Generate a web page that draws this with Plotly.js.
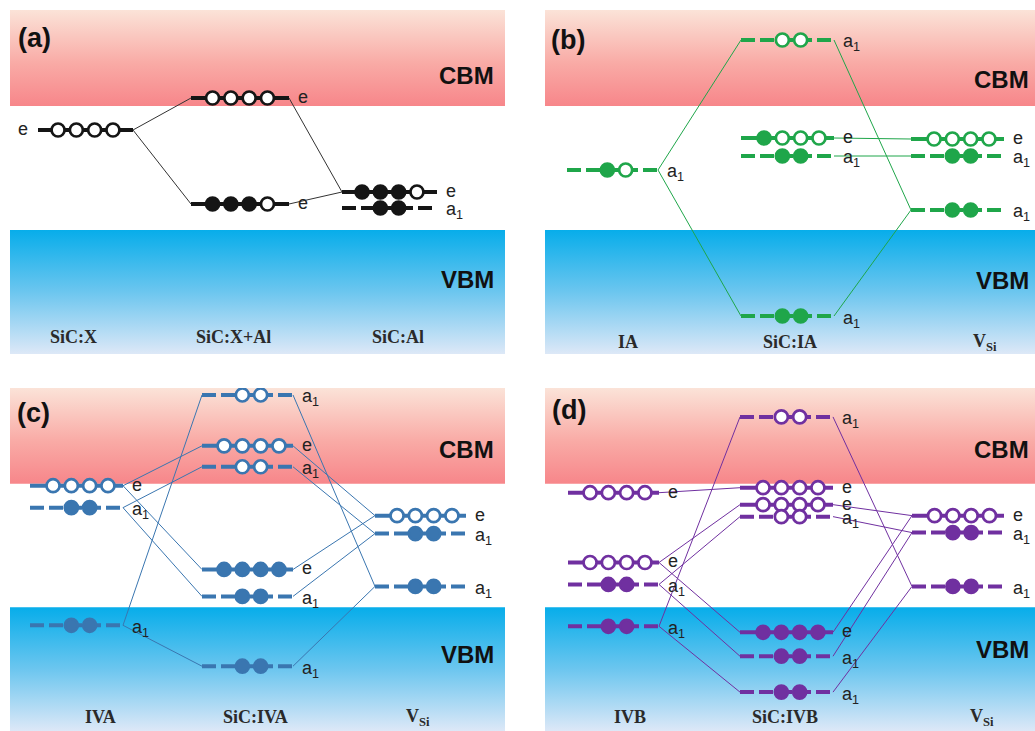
<!DOCTYPE html>
<html>
<head>
<meta charset="utf-8">
<script src="https://cdn.plot.ly/plotly-3.0.1.min.js"></script>
<style>html,body{margin:0;padding:0;background:#fff;}</style>
</head>
<body>
<div id="chart" style="width:1035px;height:731px;"></div>
<script>
// ---------- DATA (energies relative to VBM edge, arbitrary units; CBM edge = 124) ----------
const vbmEdge = 0;
const cbmEdge = 124;

// Panel (a)
const aCategories = ['SiC:X', 'SiC:X+Al', 'SiC:Al'];
const aLevelCol  = [0, 1, 1, 2, 2];
const aLevelE    = [100, 132, 26, 38, 22];
const aLevelType = ['e', 'e', 'e', 'e', 'a1'];
const aLevelOcc  = ['oooo', 'oooo', 'fffo', 'fffo', 'ff'];
const aLinks     = [[0, 1], [0, 2], [1, 3], [2, 3]];

// Panel (b)
const bCategories = ['IA', 'SiC:IA', 'V<sub>Si</sub>'];
const bLevelCol  = [0, 1, 1, 1, 1, 2, 2, 2];
const bLevelE    = [60, 190, 92, 74, -86, 91, 74, 20];
const bLevelType = ['a1', 'a1', 'e', 'a1', 'a1', 'e', 'a1', 'a1'];
const bLevelOcc  = ['fo', 'oo', 'fooo', 'ff', 'ff', 'oooo', 'ff', 'ff'];
const bLinks     = [[0, 1], [0, 4], [1, 7], [4, 7], [2, 5], [3, 6]];

// Panel (c)
const cCategories = ['IVA', 'SiC:IVA', 'V<sub>Si</sub>'];
const cLevelCol  = [0, 0, 0, 1, 1, 1, 1, 1, 1, 2, 2, 2];
const cLevelE    = [122, 100, -18, 213, 162, 141, 38, 11, -59, 92, 74, 21];
const cLevelType = ['e', 'a1', 'a1', 'a1', 'e', 'a1', 'e', 'a1', 'a1', 'e', 'a1', 'a1'];
const cLevelOcc  = ['oooo', 'ff', 'ff', 'oo', 'oooo', 'oo', 'ffff', 'ff', 'ff', 'oooo', 'ff', 'ff'];
const cLinks     = [[0, 4], [0, 6], [1, 5], [1, 7], [2, 3], [2, 8], [4, 9], [6, 9], [5, 10], [7, 10], [3, 11], [8, 11]];

// Panel (d)
const dCategories = ['IVB', 'SiC:IVB', 'V<sub>Si</sub>'];
const dLevelCol  = [0, 0, 0, 0, 1, 1, 1, 1, 1, 1, 1, 2, 2, 2];
const dLevelE    = [115, 45, 23, -19, 191, 120, 103, 91, -25, -49, -85, 92, 75, 21];
const dLevelType = ['e', 'e', 'a1', 'a1', 'a1', 'e', 'e', 'a1', 'e', 'a1', 'a1', 'e', 'a1', 'a1'];
const dLevelOcc  = ['oooo', 'oooo', 'ff', 'ff', 'oo', 'oooo', 'oooo', 'oo', 'ffff', 'ff', 'ff', 'oooo', 'ff', 'ff'];
const dLinks     = [[0, 5], [1, 6], [1, 8], [2, 7], [2, 9], [3, 4], [3, 10], [6, 11], [8, 11], [7, 12], [9, 12], [4, 13], [10, 13]];

// ---------- LAYOUT / STYLE ----------
const W = 1035, H = 731;
const SANS = 'Liberation Sans, Arial, sans-serif';
const SERIF = 'Liberation Serif, Times New Roman, serif';
const yLo = -124, yHi = 220;

const panels = [
  {tag: '(a)', color: '#151515', linkColor: '#333333', cats: aCategories, col: aLevelCol, E: aLevelE, type: aLevelType, occ: aLevelOcc, links: aLinks,
   px: [10, 505], py: [10, 354], xr: 495, colL: [28, 181, 332], colR: [123, 279, 427], shift: 0, leftLabelCol0: true,
   catX: [63, 223, 388], catE: -107, tagX: 6, tagE: 192, cbmE: 154, vbmE: -49},
  {tag: '(b)', color: '#1fa64a', linkColor: '#1fa64a', cats: bCategories, col: bLevelCol, E: bLevelE, type: bLevelType, occ: bLevelOcc, links: bLinks,
   px: [545, 1035], py: [10, 354], xr: 490, colL: [22, 196, 366], colR: [113, 289, 459], shift: 4, leftLabelCol0: false,
   catX: [83, 245, 440], catE: -112, tagX: 4, tagE: 190, cbmE: 150, vbmE: -50},
  {tag: '(c)', color: '#3a76b0', linkColor: '#3a76b0', cats: cCategories, col: cLevelCol, E: cLevelE, type: cLevelType, occ: cLevelOcc, links: cLinks,
   px: [10, 505], py: [388, 731], xr: 495, colL: [20, 192, 365], colR: [113, 283, 456], shift: 4, leftLabelCol0: false,
   catX: [90, 245, 408], catE: -110, tagX: 5, tagE: 195, cbmE: 158, vbmE: -47},
  {tag: '(d)', color: '#7030a0', linkColor: '#7030a0', cats: dCategories, col: dLevelCol, E: dLevelE, type: dLevelType, occ: dLevelOcc, links: dLinks,
   px: [545, 1035], py: [388, 731], xr: 490, colL: [23, 195, 367], colR: [114, 288, 459], shift: 4, leftLabelCol0: false,
   catX: [85, 240, 437], catE: -110, tagX: 5, tagE: 198, cbmE: 158, vbmE: -42}
];

const traces = [];
const annotations = [];
const layout = {
  width: W, height: H,
  margin: {l: 0, r: 0, t: 0, b: 0, pad: 0},
  paper_bgcolor: '#ffffff', plot_bgcolor: 'rgba(0,0,0,0)',
  showlegend: false,
  annotations: annotations
};

panels.forEach((p, k) => {
  const n = k === 0 ? '' : String(k + 1);
  const xa = 'x' + n, ya = 'y' + n;
  layout['xaxis' + n] = {domain: [p.px[0] / W, p.px[1] / W], range: [0, p.xr], visible: false, fixedrange: true, anchor: ya};
  layout['yaxis' + n] = {domain: [1 - p.py[1] / H, 1 - p.py[0] / H], range: [yLo, yHi], visible: false, fixedrange: true, anchor: xa};
  const xmax = 495;

  // CBM band
  traces.push({type: 'scatter', mode: 'lines', xaxis: xa, yaxis: ya, hoverinfo: 'skip',
    x: [0, xmax, xmax, 0, 0], y: [cbmEdge, cbmEdge, yHi, yHi, cbmEdge],
    fill: 'toself', line: {width: 0, color: 'rgba(0,0,0,0)'},
    fillgradient: {type: 'vertical', colorscale: [[0, '#f7868a'], [0.45, '#f9aba6'], [1, '#fbe3d8']]}});
  // VBM band
  traces.push({type: 'scatter', mode: 'lines', xaxis: xa, yaxis: ya, hoverinfo: 'skip',
    x: [0, xmax, xmax, 0, 0], y: [yLo, yLo, vbmEdge, vbmEdge, yLo],
    fill: 'toself', line: {width: 0, color: 'rgba(0,0,0,0)'},
    fillgradient: {type: 'vertical', colorscale: [[0, '#dde8f7'], [0.5, '#6cc6ef'], [1, '#07adea']]}});

  // Links
  const lx = [], ly = [];
  p.links.forEach(([i, j]) => {
    lx.push(p.colR[p.col[i]], p.colL[p.col[j]], null);
    ly.push(p.E[i], p.E[j], null);
  });
  traces.push({type: 'scatter', mode: 'lines', xaxis: xa, yaxis: ya, hoverinfo: 'skip',
    x: lx, y: ly, line: {color: p.linkColor, width: 1}});

  // Levels
  const fx = [], fy = [], ox = [], oy = [];
  p.E.forEach((e, i) => {
    const c = p.col[i];
    const solid = p.type[i] === 'e';
    traces.push({type: 'scatter', mode: 'lines', xaxis: xa, yaxis: ya, hoverinfo: 'skip',
      x: [p.colL[c], p.colR[c]], y: [e, e],
      line: {color: p.color, width: 4, dash: solid ? 'solid' : '14px,5px'}});
    const occ = p.occ[i];
    const m = occ.length, sp = 18.3;
    const ctr = (p.colL[c] + p.colR[c]) / 2 + p.shift;
    for (let q = 0; q < m; q++) {
      const xx = ctr + (q - (m - 1) / 2) * sp;
      if (occ[q] === 'f') { fx.push(xx); fy.push(e); } else { ox.push(xx); oy.push(e); }
    }
    // level label
    const txt = solid ? 'e' : 'a<sub>1</sub>';
    const left = p.leftLabelCol0 && c === 0;
    annotations.push({xref: xa, yref: ya, x: left ? p.colL[c] - 8 : p.colR[c] + 7, y: e,
      xanchor: left ? 'right' : 'left', yanchor: 'middle', yshift: solid ? 1 : -3,
      text: txt, showarrow: false, font: {family: SANS, size: 18, color: '#222'}});
  });
  traces.push({type: 'scatter', mode: 'markers', xaxis: xa, yaxis: ya, hoverinfo: 'skip',
    x: ox, y: oy, marker: {size: 13, color: '#ffffff', line: {color: p.color, width: 2.7}}});
  traces.push({type: 'scatter', mode: 'markers', xaxis: xa, yaxis: ya, hoverinfo: 'skip',
    x: fx, y: fy, marker: {size: 13, color: p.color, line: {color: p.color, width: 2.7}}});

  // Category labels
  p.cats.forEach((t, i) => {
    annotations.push({xref: xa, yref: ya, x: p.catX[i], y: p.catE, xanchor: 'center', yanchor: 'middle',
      text: '<b>' + t + '</b>', showarrow: false, font: {family: SERIF, size: 18, color: '#2a2a2a'}});
  });
  // Tag, CBM, VBM
  annotations.push({xref: xa, yref: ya, x: p.tagX, y: p.tagE, xanchor: 'left', yanchor: 'middle',
    text: '<b>' + p.tag + '</b>', showarrow: false, font: {family: SANS, size: 27, color: '#111'}});
  annotations.push({xref: xa, yref: ya, x: 486, y: p.cbmE, xanchor: 'right', yanchor: 'middle',
    text: '<b>CBM</b>', showarrow: false, font: {family: SANS, size: 24, color: '#111'}});
  annotations.push({xref: xa, yref: ya, x: 486, y: p.vbmE, xanchor: 'right', yanchor: 'middle',
    text: '<b>VBM</b>', showarrow: false, font: {family: SANS, size: 24, color: '#111'}});
});

Plotly.newPlot('chart', traces, layout, {staticPlot: true, displayModeBar: false});
</script>
</body>
</html>
